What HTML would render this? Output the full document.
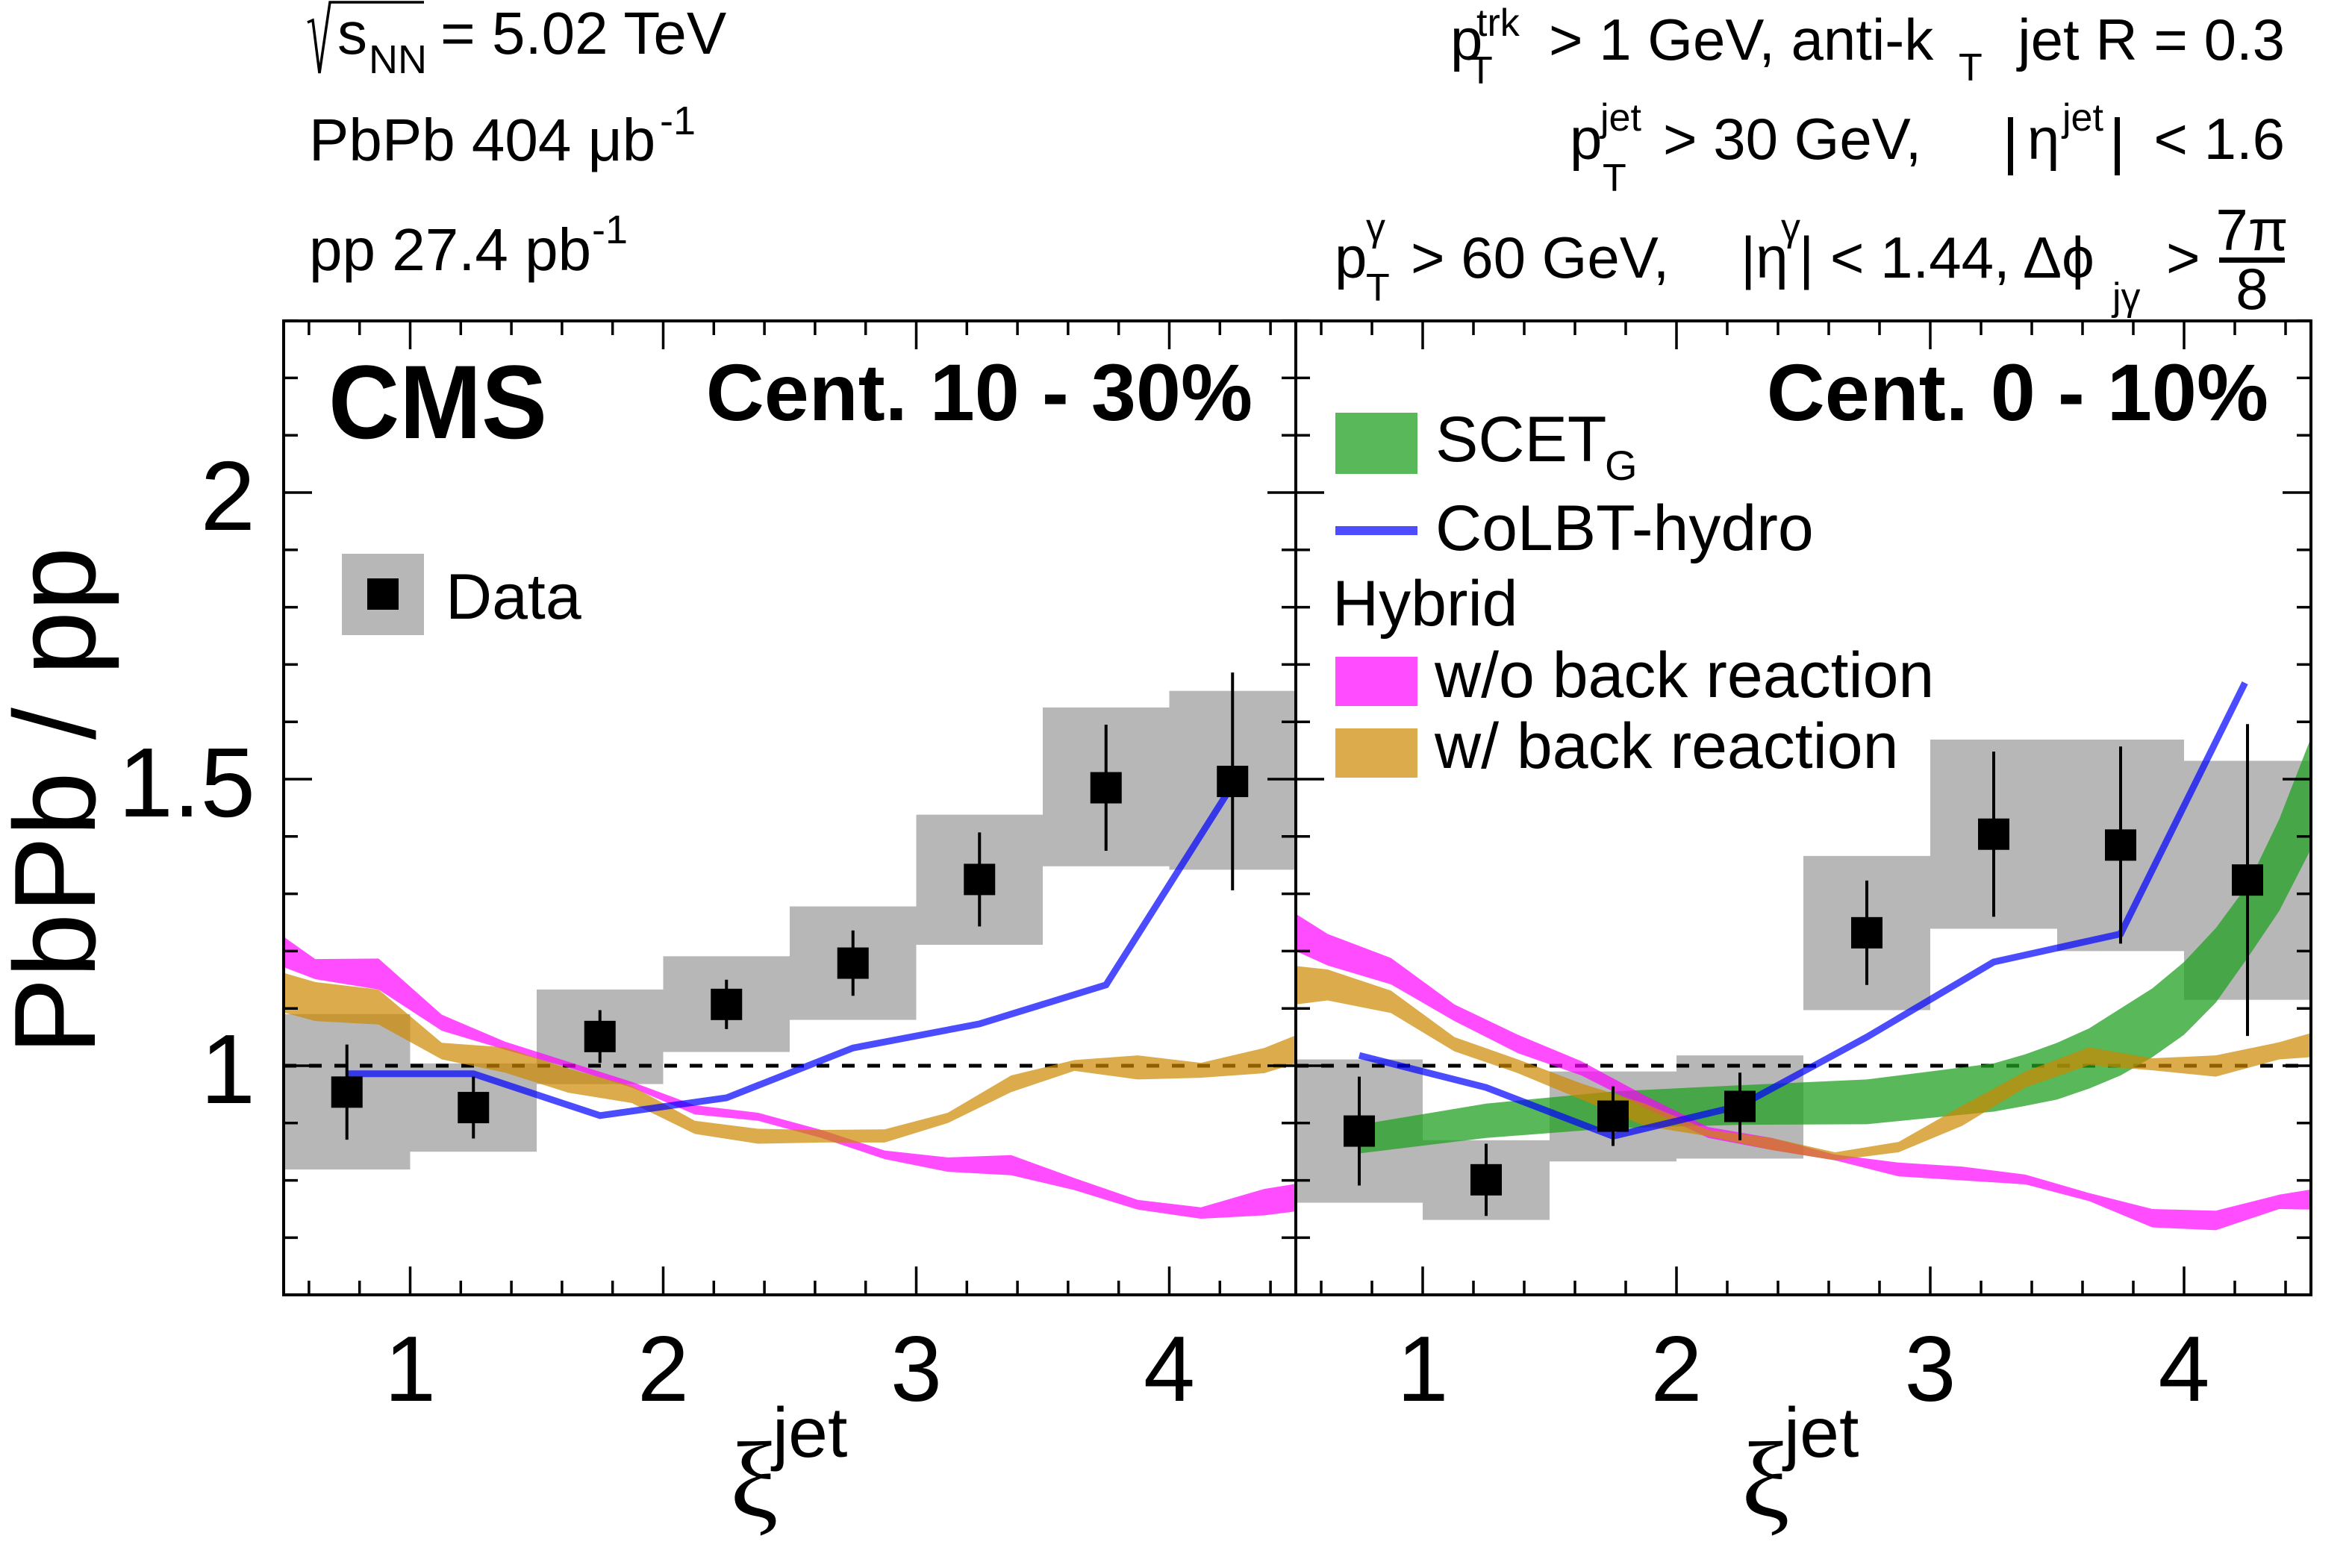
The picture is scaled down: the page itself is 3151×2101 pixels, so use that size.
<!DOCTYPE html>
<html><head><meta charset="utf-8"><style>
html,body{margin:0;padding:0;background:#fff;}
svg{display:block;}
text{font-family:"Liberation Sans",sans-serif;fill:#000;}
</style></head><body>
<svg id="chart" xmlns="http://www.w3.org/2000/svg" width="3151" height="2101" viewBox="0 0 3151 2101">
<rect x="0" y="0" width="3151" height="2101" fill="#fff"/>
<g id="plot"></g>
<g>
<polyline points="412,30 419,27 428,98 442,3 568,3" fill="none" stroke="#000" stroke-width="3.5"/>
<text x="452" y="72" font-size="80">s</text>
<text x="494" y="98" font-size="54">NN</text>
<text x="590" y="72" font-size="80">= 5.02 TeV</text>
<text x="414" y="215" font-size="80">PbPb 404 μb</text>
<text x="884" y="180" font-size="54">-1</text>
<text x="414" y="362" font-size="80">pp 27.4 pb</text>
<text x="793" y="326" font-size="54">-1</text>
</g>
<g>
<text x="1943" y="80" font-size="78">p</text>
<text x="1978" y="48" font-size="52">trk</text>
<text x="1968" y="112" font-size="52">T</text>
<text x="2075" y="80" font-size="78">&gt; 1 GeV, anti-k</text>
<text x="2624" y="108" font-size="52">T</text>
<text x="3061" y="80" font-size="78" text-anchor="end">jet R = 0.3</text>
<text x="2103" y="213" font-size="78">p</text>
<text x="2144" y="175" font-size="52">jet</text>
<text x="2147" y="256" font-size="52">T</text>
<text x="2228" y="213" font-size="78">&gt; 30 GeV,</text>
<rect x="2690" y="157" width="7" height="78"/>
<text x="2716" y="213" font-size="78">η</text>
<text x="2763" y="175" font-size="52">jet</text>
<rect x="2833" y="157" width="7" height="78"/>
<text x="3061" y="213" font-size="78" text-anchor="end">&lt; 1.6</text>
<text x="1788" y="372" font-size="78">p</text>
<text x="1830" y="322" font-size="52">γ</text>
<text x="1830" y="403" font-size="52">T</text>
<text x="1890" y="372" font-size="78">&gt; 60 GeV,</text>
<text x="2332" y="372" font-size="78">|η</text>
<text x="2386" y="322" font-size="52">γ</text>
<text x="2410" y="372" font-size="78">| &lt; 1.44, Δϕ</text>
<text x="2830" y="415" font-size="52">jγ</text>
<text x="2902" y="372" font-size="78">&gt;</text>
<text x="3017" y="335" font-size="78" text-anchor="middle">7π</text>
<rect x="2973" y="345" width="88" height="7"/>
<text x="3017" y="414" font-size="78" text-anchor="middle">8</text>
</g>
<text x="440" y="587" font-size="140" font-weight="bold" textLength="293" lengthAdjust="spacingAndGlyphs">CMS</text>
<text x="1678" y="563" font-size="108" font-weight="bold" text-anchor="end">Cent. 10 - 30%</text>
<text x="3039" y="563" font-size="108" font-weight="bold" text-anchor="end">Cent. 0 - 10%</text>
<g>
<rect x="458" y="742" width="110" height="109" fill="#b7b7b7"/>
<rect x="492" y="775" width="42" height="42" fill="#000"/>
<text x="597" y="829" font-size="86">Data</text>
</g>
<g>
<rect x="1789" y="553" width="110" height="82" fill="#22a022" fill-opacity="0.75"/>
<text x="1923" y="618" font-size="86">SCET</text>
<text x="2150" y="643" font-size="56">G</text>
<rect x="1789" y="705" width="110" height="12" fill="#4d4dff"/>
<text x="1923" y="737" font-size="86">CoLBT-hydro</text>
<text x="1785" y="838" font-size="86">Hybrid</text>
<rect x="1789" y="880" width="110" height="66" fill="#ff00ff" fill-opacity="0.7"/>
<text x="1922" y="934" font-size="86">w/o back reaction</text>
<rect x="1789" y="976" width="110" height="66" fill="#cc8800" fill-opacity="0.7"/>
<text x="1922" y="1029" font-size="86">w/ back reaction</text>
</g>
<text transform="translate(127,1073) rotate(-90)" font-size="155" text-anchor="middle">PbPb / pp</text>
<g>
<text x="978" y="2032" font-size="145" style="font-family:'Liberation Serif',serif">ξ</text>
<text x="1035" y="1952" font-size="95">jet</text>
</g>
<g>
<text x="2333" y="2032" font-size="145" style="font-family:'Liberation Serif',serif">ξ</text>
<text x="2390" y="1952" font-size="95">jet</text>
</g>
</svg>
<script>
const binCenters = [0.75,1.25,1.75,2.25,2.75,3.25,3.75,4.25];
const dataLeft = [0.954,0.927,1.051,1.107,1.179,1.325,1.485,1.496];
const statLeft = [0.083,0.054,0.046,0.043,0.057,0.082,0.11,0.19];
const sysHiLeft = [1.09,1.004,1.133,1.191,1.278,1.438,1.625,1.654];
const sysLoLeft = [0.819,0.85,0.968,1.024,1.08,1.211,1.348,1.342];
const dataRight = [0.886,0.801,0.912,0.929,1.232,1.404,1.385,1.324];
const statRight = [0.095,0.063,0.052,0.059,0.091,0.144,0.172,0.272];
const sysHiRight = [1.011,0.870,0.990,1.018,1.366,1.569,1.569,1.532];
const sysLoRight = [0.761,0.731,0.833,0.838,1.097,1.239,1.200,1.115];
const colbtXLeft = [0.75,1.25,1.75,2.25,2.75,3.25,3.75,4.25];
const colbtLeft = [0.986,0.986,0.913,0.944,1.031,1.073,1.141,1.49];
const colbtXRight = [0.75,1.25,1.75,2.25,2.75,3.25,3.75,4.24];
const colbtRight = [1.018,0.962,0.877,0.930,1.050,1.181,1.230,1.668];
const hybridX = [0.5,0.625,0.875,1.125,1.375,1.625,1.875,2.125,2.375,2.625,2.875,3.125,3.375,3.625,3.875,4.125,4.375,4.5];
const woHiLeft = [1.225,1.186,1.187,1.089,1.042,1.007,0.972,0.931,0.918,0.888,0.852,0.840,0.844,0.804,0.766,0.753,0.785,0.794];
const woLoLeft = [1.172,1.151,1.133,1.061,1.028,0.997,0.962,0.915,0.904,0.874,0.837,0.815,0.809,0.783,0.749,0.733,0.739,0.746];
const wHiLeft = [1.162,1.146,1.133,1.040,1.032,0.995,0.965,0.904,0.890,0.888,0.889,0.918,0.983,1.010,1.018,1.005,1.031,1.053];
const wLoLeft = [1.093,1.078,1.072,1.011,0.988,0.953,0.935,0.881,0.864,0.866,0.866,0.900,0.954,0.991,0.976,0.979,0.987,1.004];
const woHiRight = [1.265,1.230,1.188,1.107,1.054,1.008,0.948,0.893,0.874,0.845,0.831,0.824,0.810,0.778,0.750,0.747,0.775,0.784];
const woLoRight = [1.200,1.175,1.142,1.078,1.022,0.983,0.927,0.874,0.853,0.835,0.807,0.800,0.793,0.764,0.718,0.713,0.750,0.749];
const wHiRight = [1.174,1.168,1.131,1.050,1.011,0.969,0.934,0.888,0.874,0.849,0.867,0.930,0.990,1.032,1.013,1.018,1.041,1.057];
const wLoRight = [1.107,1.114,1.092,1.025,0.987,0.941,0.895,0.877,0.853,0.835,0.849,0.895,0.962,1.001,0.992,0.981,1.011,1.015];
const scetX = [0.75,1.25,1.75,2.25,2.75,3.25,3.375,3.5,3.625,3.75,3.875,4.0,4.125,4.25,4.375,4.5];
const scetHi = [0.897,0.934,0.955,0.966,0.976,1.004,1.02,1.04,1.065,1.100,1.135,1.181,1.24,1.315,1.43,1.572];
const scetLo = [0.847,0.874,0.891,0.897,0.898,0.920,0.93,0.941,0.96,0.983,1.015,1.054,1.11,1.188,1.27,1.378];
const xTickLabels = ["1","2","3","4"];
const yTickLabels = ["1","1.5","2"];

const NS = "http://www.w3.org/2000/svg";
const Y0 = 1428, YPX = 768, TOP = 430, BOT = 1735;
const panels = [{x0:380, x1:1736}, {x0:1736, x1:3096}];
function xs(p, v){ const P = panels[p]; return P.x0 + (v-0.5)*(P.x1-P.x0)/4; }
function ys(v){ return Y0 - (v-1)*YPX; }
const plot = document.getElementById('plot');
function mk(tag, attrs, parent){
  const e = document.createElementNS(NS, tag);
  for (const k in attrs) e.setAttribute(k, attrs[k]);
  (parent||plot).appendChild(e);
  return e;
}
const defs = mk('defs', {});
panels.forEach((P,i)=>{
  const cp = mk('clipPath', {id:'clip'+i}, defs);
  mk('rect', {x:P.x0, y:TOP, width:P.x1-P.x0, height:BOT-TOP}, cp);
});

function drawPanel(p, dv, st, sh, sl, cx, cv, woH, woL, wH, wL, withScet){
  const g = mk('g', {'clip-path':'url(#clip'+p+')'});
  
  
  binCenters.forEach((c,i)=>{
    const r = mk('rect', {x:xs(p,c-0.25), y:ys(sh[i]), width:xs(p,c+0.25)-xs(p,c-0.25), height:ys(sl[i])-ys(sh[i]), fill:'#b7b7b7'}, g);
    
    
  });
  const dl = mk('line', {x1:panels[p].x0, x2:panels[p].x1, y1:ys(1), y2:ys(1), stroke:'#000', 'stroke-width':5, 'stroke-dasharray':'17,17'}, g);
  
  
  function band(xa, hi, lo, fill, op, name){
    let d = '';
    xa.forEach((x,i)=>{ d += (i?'L':'M') + xs(p,x) + ',' + ys(hi[i]); });
    for (let i = xa.length-1; i >= 0; i--) d += 'L' + xs(p,xa[i]) + ',' + ys(lo[i]);
    const e = mk('path', {d:d+'Z', fill:fill, 'fill-opacity':op}, g);
    
    
  }
  if (withScet) band(scetX, scetHi, scetLo, '#22a022', 0.75, 'scet-band');
  band(hybridX, woH, woL, '#ff00ff', 0.7, 'hybrid-wo-band');
  band(hybridX, wH, wL, '#cc8800', 0.7, 'hybrid-w-band');
  const pts = cx.map((x,i)=> xs(p,x)+','+ys(cv[i])).join(' ');
  const bl = mk('polyline', {points:pts, fill:'none', stroke:'#0000ff', 'stroke-opacity':0.7, 'stroke-width':9}, g);
  
  
  binCenters.forEach((c,i)=>{
    const eb = mk('line', {x1:xs(p,c), x2:xs(p,c), y1:ys(dv[i]+st[i]), y2:ys(dv[i]-st[i]), stroke:'#000', 'stroke-width':4}, g);
    
    
    const m = mk('rect', {x:xs(p,c)-21, y:ys(dv[i])-21, width:42, height:42, fill:'#000'}, g);
    
    
  });
}
drawPanel(0, dataLeft, statLeft, sysHiLeft, sysLoLeft, colbtXLeft, colbtLeft, woHiLeft, woLoLeft, wHiLeft, wLoLeft, false);
drawPanel(1, dataRight, statRight, sysHiRight, sysLoRight, colbtXRight, colbtRight, woHiRight, woLoRight, wHiRight, wLoRight, true);

panels.forEach((P,p)=>{
  const fr = mk('rect', {x:P.x0, y:TOP, width:P.x1-P.x0, height:BOT-TOP, fill:'none', stroke:'#000', 'stroke-width':4});
  
  
  let d = '';
  for (let k = 3; k <= 22; k++){
    const v = k*0.2; if (v <= 0.5 || v >= 4.5) continue;
    const L = (Math.abs(v - Math.round(v)) < 1e-6) ? 38 : 19;
    const x = xs(p, v);
    d += `M${x},${BOT}v${-L}M${x},${TOP}v${L}`;
  }
  for (let k = 6; k <= 23; k++){
    const v = k*0.1;
    const L = (k % 5 === 0) ? 38 : 19;
    const y = ys(v);
    d += `M${P.x0},${y}h${L}M${P.x1},${y}h${-L}`;
  }
  const t = mk('path', {d:d, stroke:'#000', 'stroke-width':3.5, fill:'none'});
  
  
  xTickLabels.forEach((lab)=>{
    const tx = mk('text', {x:xs(p, parseFloat(lab)), y:1877, 'font-size':124, 'text-anchor':'middle'});
    tx.textContent = lab;
    
    
  });
});
yTickLabels.forEach((lab)=>{
  const tx = mk('text', {x:342, y:ys(parseFloat(lab))+50, 'font-size':132, 'text-anchor':'end'});
  tx.textContent = lab;
  
  
});
</script>
</body></html>
